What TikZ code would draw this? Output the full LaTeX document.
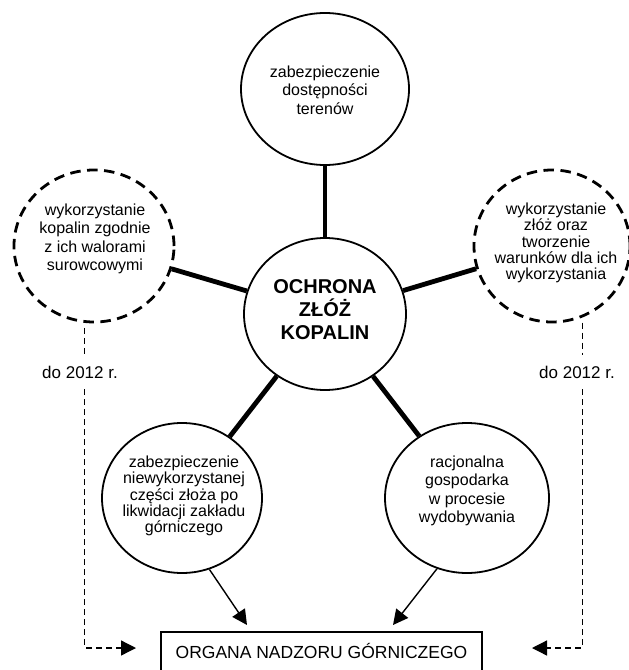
\documentclass[tikz,border=0pt]{standalone}
\usepackage{fontspec}
\setmainfont{Liberation Sans}
\usetikzlibrary{shapes.geometric,arrows.meta}
\tikzset{
  solidc/.style={ellipse, draw, line width=1.8bp, minimum width=162bp, minimum height=152bp, inner sep=0pt},
  dashc/.style={ellipse, draw, line width=2.8bp, dash pattern=on 10.5bp off 6.5bp, minimum width=160bp, minimum height=152bp, inner sep=0pt},
  txt/.style={align=center, inner sep=0pt, font=\fontsize{16bp}{18.3bp}\selectfont},
  txtt/.style={align=center, inner sep=0pt, font=\fontsize{16bp}{16.4bp}\selectfont},
  ctxt/.style={align=center, inner sep=0pt, font=\bfseries\fontsize{20bp}{23bp}\selectfont},
  spoke/.style={line width=4.8bp},
  arr/.style={line width=1.4bp, -{Triangle[length=15bp,width=15bp]}},
  dsh/.style={line width=1.3bp, dash pattern=on 6bp off 4bp},
  yeartxt/.style={inner xsep=0pt, inner ysep=11bp, font=\fontsize{17bp}{20bp}\selectfont},
  orgbox/.style={draw, line width=1.6bp, minimum width=321bp, text height=12.5bp, text depth=10bp, inner ysep=13.5bp, font=\fontsize{17.5bp}{20bp}\selectfont}
}
\begin{document}
\begin{tikzpicture}[x=1bp,y=-1bp]
\useasboundingbox (0,0) rectangle (629,670);
\fill[white] (0,0) rectangle (629,670);

% circles
\node[solidc, minimum width=168bp] (top) at (325,89) {};
\node[solidc] (ctr) at (325,314) {};
\node[dashc] (ld) at (94,246) {};
\node[dashc, minimum width=156bp] (rd) at (552,246) {};
\node[solidc, minimum width=160bp, minimum height=150bp] (bl) at (182,498) {};
\node[solidc, minimum width=164bp, minimum height=150bp] (br) at (467,498) {};

% texts
\node[txt] (topt) at (325,90) {zabezpieczenie\\dostępności\\terenów};
\node[ctxt] (ctrt) at (325,310) {OCHRONA\\ZŁÓŻ\\KOPALIN};
\node[txt] (ldt) at (95,239) {wykorzystanie\\kopalin zgodnie\\z ich walorami\\surowcowymi};
\node[txtt] (rdt) at (556,243) {wykorzystanie\\złóż oraz\\tworzenie\\warunków dla ich\\wykorzystania};
\node[txtt] (blt) at (184,496) {zabezpieczenie\\niewykorzystanej\\części złoża po\\likwidacji zakładu\\górniczego};
\node[txt] (brt) at (467,491) {racjonalna\\gospodarka\\w procesie\\wydobywania};

% spokes
\draw[spoke] (top) -- (ctr);
\draw[spoke] (ld) -- (ctr);
\draw[spoke] (rd) -- (ctr);
\draw[spoke] (bl) -- (ctr);
\draw[spoke] (br) -- (ctr);

% bottom box
\node[orgbox, anchor=base] (org) at (321.5,658) {ORGANA NADZORU GÓRNICZEGO};

% arrows to box
\coordinate (tipA) at (247,625);
\coordinate (tipB) at (393,625);
\draw[arr] (bl.-69) -- (tipA);
\draw[arr] (br.-113) -- (tipB);

% year labels and dashed arrows
\node[yeartxt] (dtL) at (80,372) {do 2012 r.};
\node[yeartxt] (dtR) at (577,372) {do 2012 r.};
\coordinate (tipDL) at (136,648);
\coordinate (tipDR) at (532,648);
\draw[dsh, shorten <=5bp] (ld.-97) -- (ld.-97 |- dtL.north);
\draw[dsh, -{Triangle[length=15bp,width=15bp]}] (ld.-97 |- dtL.south) |- (tipDL);
\draw[dsh, shorten <=5bp] (rd.-67) -- (rd.-67 |- dtR.north);
\draw[dsh, -{Triangle[length=15bp,width=15bp]}] (rd.-67 |- dtR.south) |- (tipDR);
\end{tikzpicture}
\end{document}
